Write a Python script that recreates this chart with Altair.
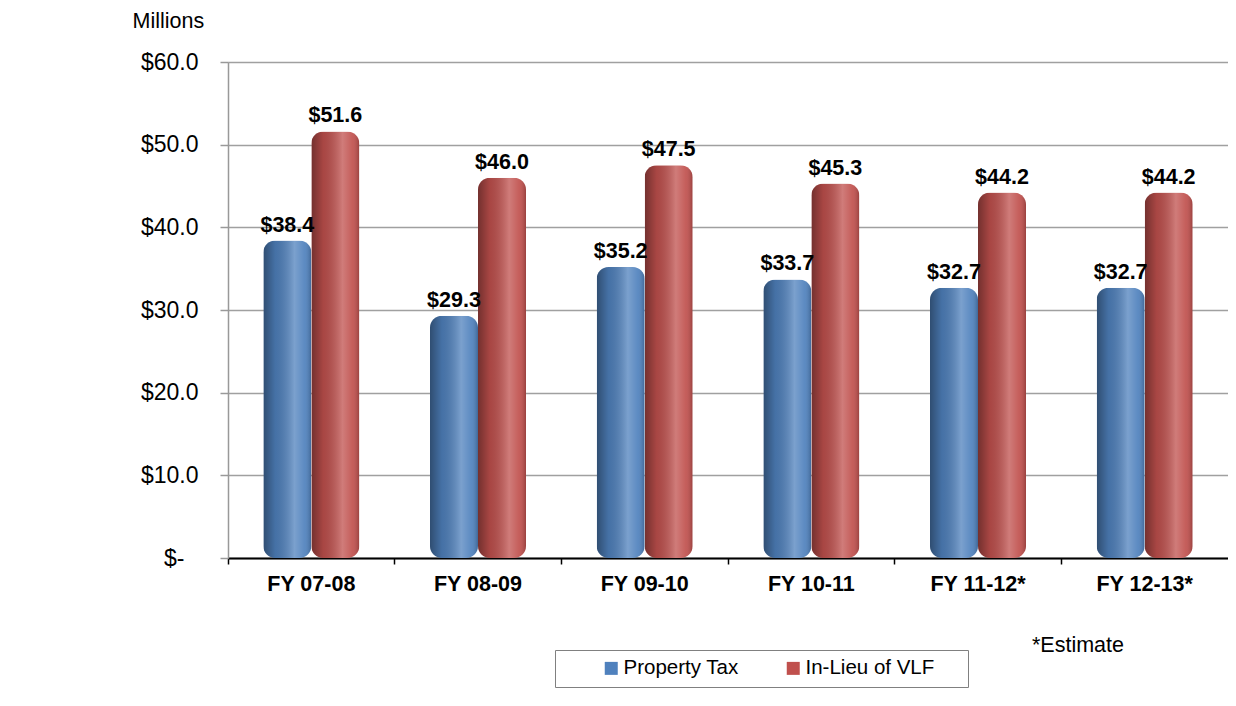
import altair as alt
import pandas as pd

# ---- data ----
years = ["FY 07-08", "FY 08-09", "FY 09-10", "FY 10-11", "FY 11-12*", "FY 12-13*"]
property_tax = [38.4, 29.3, 35.2, 33.7, 32.7, 32.7]
in_lieu_vlf = [51.6, 46.0, 47.5, 45.3, 44.2, 44.2]
series = ["Property Tax", "In-Lieu of VLF"]
series_colors = ["#4F81BD", "#C0504D"]
y_ticks = [0, 10, 20, 30, 40, 50, 60]
notes = ["*Estimate"]

rows = []
for i, yr in enumerate(years):
    rows.append({"year": yr, "series": series[0], "value": property_tax[i]})
    rows.append({"year": yr, "series": series[1], "value": in_lieu_vlf[i]})
df = pd.DataFrame(rows)

FONT = "Liberation Sans"
W, H = 1000, 496

x_enc = alt.X(
    "year:N", sort=years,
    scale=alt.Scale(paddingInner=0, paddingOuter=0),
    axis=alt.Axis(
        title=None, orient="bottom", labelAngle=0, labelFont=FONT, labelFontSize=21.5,
        labelFontWeight="bold", labelColor="black", labelPadding=9,
        bandPosition=0, tickSize=6, tickColor="black",
        tickWidth=1.5, domainColor="black", domainWidth=2, grid=False,
    ),
)
y_enc = alt.Y(
    "value:Q",
    scale=alt.Scale(domain=[0, 60], nice=False),
    axis=alt.Axis(
        title="Millions", titleAngle=0, titleX=-96, titleY=-35, titleAlign="left",
        titleBaseline="alphabetic", titleFont=FONT, titleFontSize=21.5,
        titleFontWeight="normal", titleColor="black",
        values=y_ticks,
        labelExpr="datum.value == 0 ? '$-' : '$' + format(datum.value, '.1f')",
        labelFont=FONT, labelFontSize=23, labelColor="black",
        labelPadding={"condition": {"test": "datum.value == 0", "value": 36}, "value": 22},
        tickSize=8, tickColor="#999999", tickWidth=1.5,
        domainColor="#999999", domainWidth=1.5,
        gridColor="#a0a0a0", gridWidth=1.5,
    ),
)
xoff = alt.XOffset(
    "series:N", sort=series,
    scale=alt.Scale(domain=series, paddingInner=0, paddingOuter=0.736),
)

base = alt.Chart(df)

bars = base.mark_bar(cornerRadius=12).encode(
    x=x_enc, xOffset=xoff, y=y_enc,
    color=alt.Color(
        "series:N",
        scale=alt.Scale(domain=series, range=series_colors),
        legend=alt.Legend(
            title="\u00a0", titleOrient="right", titlePadding=26,
            orient="none", legendX=327, legendY=588,
            direction="horizontal", symbolType="square", symbolSize=169,
            symbolStrokeWidth=0, labelFont=FONT, labelFontSize=20.5,
            labelColor="black", labelOffset=2, labelLimit=300,
            columnPadding=6, padding=8, strokeColor="#808080",
            symbolOffset=38,
        ),
    ),
)

shade = alt.Gradient(
    gradient="linear", x1=0, x2=1, y1=0, y2=0,
    stops=[
        alt.GradientStop(color="rgba(0,0,0,0.40)", offset=0),
        alt.GradientStop(color="rgba(0,0,0,0.12)", offset=0.25),
        alt.GradientStop(color="rgba(255,255,255,0.25)", offset=0.65),
        alt.GradientStop(color="rgba(255,255,255,0.08)", offset=0.86),
        alt.GradientStop(color="rgba(0,0,0,0.20)", offset=1),
    ],
)
overlay = base.mark_bar(cornerRadius=12, color=shade).encode(
    x=x_enc, xOffset=xoff, y=y_enc,
)

labels = base.transform_calculate(
    lbl="'$' + format(datum.value, '.1f')"
).mark_text(
    font=FONT, fontSize=21.5, fontWeight="bold", color="black",
    baseline="alphabetic", dy=-9,
).encode(x=x_enc, xOffset=xoff, y=y_enc, text="lbl:N")

note = alt.Chart(pd.DataFrame({"note": notes})).mark_text(
    font=FONT, fontSize=21.5, color="black", align="right", baseline="alphabetic",
).encode(x=alt.value(896), y=alt.value(590), text="note:N")

chart = alt.layer(bars, overlay, labels, note).properties(
    width=W, height=H,
    autosize=alt.AutoSizeParams(type="none"),
    padding={"left": 220, "top": 54, "right": 0, "bottom": 134},
).configure_view(stroke=None).configure(background="white")

chart.save("out.html", embed_options={"renderer": "svg", "actions": False})
